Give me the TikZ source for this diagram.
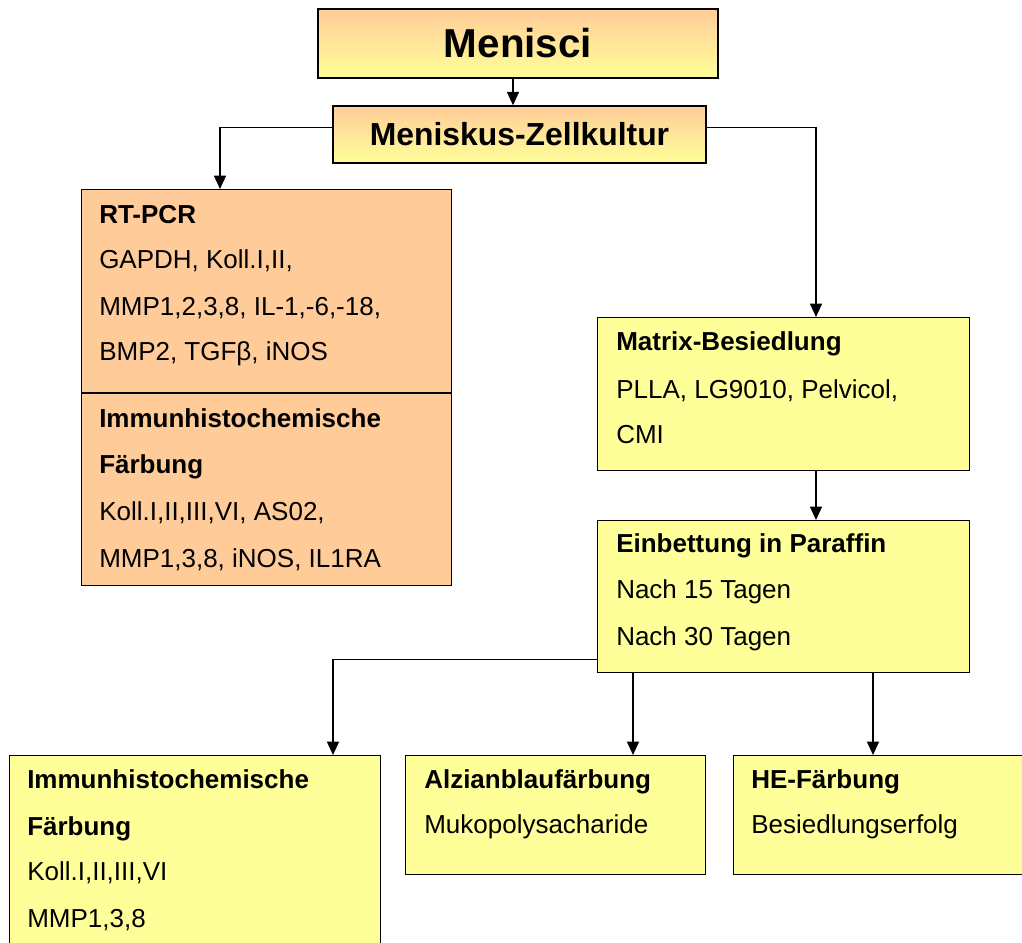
\documentclass[tikz,border=0pt]{standalone}
\usepackage{fontspec}
\setmainfont{Liberation Sans}
\usepackage{tikz}
\usetikzlibrary{arrows.meta}
\definecolor{peach}{HTML}{FFCC99}
\definecolor{paleyellow}{HTML}{FFFF99}
\tikzset{
  box/.style={draw, line width=1.1pt, anchor=north west, inner sep=0pt},
  topbox/.style={box, anchor=center, top color=peach, bottom color=paleyellow, font=\bfseries},
  txt/.style={anchor=base west, inner sep=0pt, font=\fontsize{19.5}{23}\selectfont},
  hd/.style={txt, font=\fontsize{19.5}{23}\selectfont\bfseries},
  arr/.style={line width=0.9pt, -{Triangle[length=10pt,width=9pt]}}
}
\begin{document}
\begin{tikzpicture}[x=0.75pt,y=-0.75pt]
  \useasboundingbox (0,0) rectangle (1022,943);
  \clip (0,0) rectangle (1022,943);
  \node[topbox, minimum width=300pt, minimum height=51.75pt, font=\fontsize{30.3}{34}\selectfont\bfseries] (menisci) at (518,43.5) {Menisci};
  \node[topbox, minimum width=279.75pt, minimum height=42.75pt, font=\fontsize{23.9}{28}\selectfont\bfseries] (zell) at (519.5,134.5) {Meniskus-Zellkultur};
  \node[box, fill=peach, minimum width=277.5pt, minimum height=297pt] (rtpcr) at (81,189) {};
  \draw[line width=0.9pt] (rtpcr.west |- 0,393) -- (rtpcr.east |- 0,393);
  \node[box, fill=paleyellow, minimum width=279pt, minimum height=114.75pt] (matrix) at (597,317) {};
  \node[box, fill=paleyellow, minimum width=279pt, minimum height=114pt] (einb) at (597,520) {};
  \node[box, fill=paleyellow, minimum width=278.25pt, minimum height=153.75pt] (immuno) at (9,755) {};
  \node[box, fill=paleyellow, minimum width=225pt, minimum height=89.25pt] (alzian) at (405,755) {};
  \node[box, fill=paleyellow, minimum width=226.5pt, minimum height=89.25pt] (he) at (733,755) {};

  \node[hd] (rt1) at (99,223) {RT-PCR};
  \node[txt] (rt2) at (99,268) {GAPDH, Koll.I,II,};
  \node[txt] (rt3) at (99,315) {MMP1,2,3,8, IL-1,-6,-18,};
  \node[txt] (rt4) at (99,360) {BMP2, TGFβ, iNOS};
  \node[hd] (ih1) at (99,427) {Immunhistochemische};
  \node[hd] (ih2) at (99,473) {Färbung};
  \node[txt] (ih3) at (99,520) {Koll.I,II,III,VI, AS02,};
  \node[txt] (ih4) at (99,567) {MMP1,3,8, iNOS, IL1RA};
  \node[hd] (mb1) at (616,350) {Matrix-Besiedlung};
  \node[txt] (mb2) at (616,398) {PLLA, LG9010, Pelvicol,};
  \node[txt] (mb3) at (616,443) {CMI};
  \node[hd] (ep1) at (616,552) {Einbettung in Paraffin};
  \node[txt] (ep2) at (616,598) {Nach 15 Tagen};
  \node[txt] (ep3) at (616,645) {Nach 30 Tagen};
  \node[hd] (if1) at (27,788) {Immunhistochemische};
  \node[hd] (if2) at (27,835) {Färbung};
  \node[txt] (if3) at (27,880) {Koll.I,II,III,VI};
  \node[txt] (if4) at (27,927) {MMP1,3,8};
  \node[hd] (ab1) at (424,788) {Alzianblaufärbung};
  \node[txt] (ab2) at (424,833) {Mukopolysacharide};
  \node[hd] (he1) at (751,788) {HE-Färbung};
  \node[txt] (he2) at (751,833) {Besiedlungserfolg};

  \draw[arr] ([xshift=-3.75pt]menisci.south) -- ([xshift=-3.75pt]menisci.south |- zell.north);
  \draw[arr] ([yshift=5pt]zell.west) -| ([xshift=104.25pt]rtpcr.north west);
  \draw[arr] ([yshift=5pt]zell.east) -| ([xshift=164.25pt]matrix.north west);
  \draw[arr] ([xshift=164.25pt]matrix.south west) -- ([xshift=164.25pt]einb.north west);
  \draw[arr] ([yshift=10.5pt]einb.south west) -| ([xshift=243pt]immuno.north west);
  \draw[arr] ([xshift=27pt]einb.south west) coordinate (e1) -- (e1 |- alzian.north);
  \draw[arr] ([xshift=207pt]einb.south west) coordinate (e2) -- (e2 |- he.north);
\end{tikzpicture}
\end{document}
